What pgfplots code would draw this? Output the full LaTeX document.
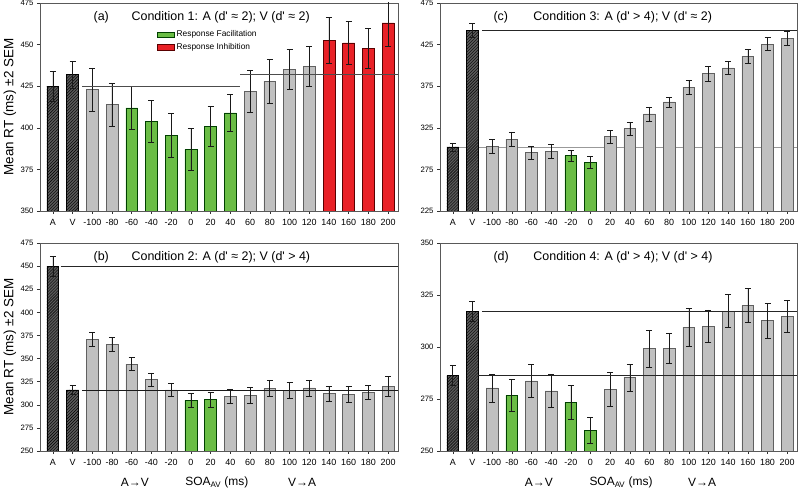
\documentclass[border=0pt]{standalone}
\usepackage{fontspec}
\setmainfont{Liberation Sans}[Ligatures=TeXOff]
\usepackage{pgfplots}
\pgfplotsset{compat=1.18}
\usetikzlibrary{patterns}

\definecolor{barGray}{RGB}{192,192,192}
\definecolor{barGreen}{RGB}{106,189,69}
\definecolor{barRed}{RGB}{233,33,39}
\definecolor{hatchGray}{RGB}{90,90,90}

\tikzset{
  ttl/.style={anchor=west, font=\fontsize{12.5}{14}\selectfont},
  soa/.style={anchor=center, font=\fontsize{12}{13}\selectfont},
}

\pgfplotsset{
  rtpanel/.style={
    scale only axis, width=358bp, height=208bp,
    clip mode=individual,
    ybar, bar width=0.6, bar shift=0pt,
    xmin=-0.65, xmax=17.5,
    xtick={0,...,17},
    xticklabels={A,V,-100,-80,-60,-40,-20,0,20,40,60,80,100,120,140,160,180,200},
    tick align=outside, xtick pos=bottom, ytick pos=left,
    major tick length=3bp,
    axis line style={gray!70!black, line width=0.5pt},
    tick style={gray!40!black, line width=0.5pt},
    x tick label style={font=\fontsize{9}{10}\selectfont, yshift=-2bp},
    y tick label style={font=\fontsize{7.8}{9}\selectfont},
    /pgf/number format/assume math mode=true,
    ylabel style={font=\fontsize{13.5}{15}\selectfont, at={(rel axis cs:-0.084,0.5)}, anchor=center},
  },
  hatched/.style={fill=hatchGray, draw=black, line width=0.6pt,
    postaction={pattern=north east lines, pattern color=black}},
  plain/.style={fill=barGray, draw=gray!75!black, line width=0.6pt},
  facil/.style={fill=barGreen, draw=green!25!black, line width=0.6pt},
  inhib/.style={fill=barRed, draw=red!35!black, line width=0.6pt},
  errs/.style={forget plot,
    error bars/y dir=both, error bars/y explicit,
    error bars/error bar style={gray!20!black, line width=0.6pt},
    error bars/error mark options={rotate=90, mark size=3bp, gray!20!black, line width=0.6pt}},
  refline/.style={sharp plot, no marks, line width=0.6pt, forget plot},
}

\begin{document}
\begin{tikzpicture}
\path[use as bounding box] (0,0) rectangle (799bp,492bp);

% (a) Condition 1
\begin{axis}[rtpanel, at={(40bp,281bp)}, anchor=south west,
  ymin=350, ymax=475, ytick={350,375,...,475},
  ylabel={Mean RT (ms) ±2 SEM},
  legend style={at={(rel axis cs:0.327,0.877)}, anchor=north west, draw=none, fill=none,
    font=\fontsize{8.4}{9}\selectfont, row sep=1bp, inner sep=0pt},
  legend cell align=left]
\addplot[hatched, errs] table[x=x, y=y, y error=e] {
x y e
0 425 9
1 432 8
};
\addplot[plain, errs] table[x=x, y=y, y error=e] {
x y e
2 423 13
3 414 13
10 422 12.5
11 428 13
12 435 12
13 437 12
};
\addplot[facil, errs] table[x=x, y=y, y error=e] {
x y e
4 412 13
5 404 12.5
6 395.5 13
7 387 12.5
8 401 12
9 409 11
};
\addplot[inhib, errs] table[x=x, y=y, y error=e] {
x y e
14 452.5 14
15 451 13
16 447.5 12
17 463 14
};
\addplot[refline, gray!60!black] coordinates {(1.5,425) (9.5,425)};
\addplot[refline, gray!60!black] coordinates {(9.5,432) (17.5,432)};
\addlegendimage{area legend, fill=barGreen, draw=green!25!black}
\addlegendentry{Response Facilitation}
\addlegendimage{area legend, fill=barRed, draw=red!35!black}
\addlegendentry{Response Inhibition}
\node[ttl] at (rel axis cs:0.14,0.93) {(a)};
\node[ttl] at (rel axis cs:0.246,0.93) {Condition 1: A (d' ≈ 2); V (d' ≈ 2)};
\end{axis}

% (c) Condition 3
\begin{axis}[rtpanel, width=357bp, at={(440bp,281bp)}, anchor=south west,
  ymin=225, ymax=475, ytick={225,275,...,475}]
\addplot[refline, gray!80] coordinates {(0.3,302) (17.5,302)};
\addplot[hatched, errs] table[x=x, y=y, y error=e] {
x y e
0 302 4.8
1 442 8
};
\addplot[plain, errs] table[x=x, y=y, y error=e] {
x y e
2 302.6 8.6
3 311.4 8.6
4 295 7.4
5 296.6 8.2
8 314.2 8
9 323.8 8
10 341.8 8.4
11 356.2 6
12 373.8 8
13 390.2 8.8
14 397 7.4
15 411 8
16 425.4 7.8
17 432.6 8.6
};
\addplot[facil, errs] table[x=x, y=y, y error=e] {
x y e
6 291.4 7
7 283 7.2
};
\addplot[refline, gray!30!black] coordinates {(1.5,442) (17.5,442)};
\node[ttl] at (rel axis cs:0.14,0.93) {(c)};
\node[ttl] at (rel axis cs:0.252,0.93) {Condition 3: A (d' > 4); V (d' ≈ 2)};
\end{axis}

% (b) Condition 2
\begin{axis}[rtpanel, at={(40bp,41bp)}, anchor=south west,
  ymin=250, ymax=475, ytick={250,275,...,475},
  ylabel={Mean RT (ms) ±2 SEM}]
\addplot[hatched, errs] table[x=x, y=y, y error=e] {
x y e
0 450 10.8
1 316 5
};
\addplot[plain, errs] table[x=x, y=y, y error=e] {
x y e
2 370.5 7.6
3 365.5 8
4 344 7.2
5 327.5 7
6 316 7.2
9 309.2 7.2
10 310.2 8.6
11 317.4 8.6
12 315.3 8.6
13 318.2 8.6
14 312 8.3
15 311.3 9
16 313.5 7.7
17 320 10.3
};
\addplot[facil, errs] table[x=x, y=y, y error=e] {
x y e
7 304.8 8
8 305.5 8
};
\addplot[refline, gray!30!black] coordinates {(0.4,450) (17.5,450)};
\addplot[refline, gray!20!black] coordinates {(1.5,316) (17.5,316)};
\node[ttl] at (rel axis cs:0.14,0.93) {(b)};
\node[ttl] at (rel axis cs:0.246,0.93) {Condition 2: A (d' ≈ 2); V (d' > 4)};
\node[soa] at (rel axis cs:0.265,-0.152) {A→V};
\node[soa] at (rel axis cs:0.494,-0.152) {SOA\textsubscript{AV} (ms)};
\node[soa] at (rel axis cs:0.732,-0.152) {V→A};
\end{axis}

% (d) Condition 4
\begin{axis}[rtpanel, width=357bp, at={(440bp,41bp)}, anchor=south west,
  ymin=250, ymax=350, ytick={250,275,...,350}]
\addplot[hatched, errs] table[x=x, y=y, y error=e] {
x y e
0 286.4 4.8
1 317.1 4.7
};
\addplot[plain, errs] table[x=x, y=y, y error=e] {
x y e
2 280.3 6.7
4 283.7 7.8
5 278.9 7.8
8 279.7 8.2
9 285.4 6.5
10 299.2 8.9
11 299.4 7.4
12 309.6 9.2
13 310 7.8
14 317.3 7.9
15 320 8
16 312.6 8.4
17 314.8 7.7
};
\addplot[facil, errs] table[x=x, y=y, y error=e] {
x y e
3 276.8 7.5
6 273.4 8.2
7 260 6.2
};
\addplot[refline, gray!30!black] coordinates {(1.3,286.4) (17.5,286.4)};
\addplot[refline, gray!30!black] coordinates {(1.5,317.1) (17.5,317.1)};
\node[ttl] at (rel axis cs:0.14,0.93) {(d)};
\node[ttl] at (rel axis cs:0.252,0.93) {Condition 4: A (d' > 4); V (d' > 4)};
\node[soa] at (rel axis cs:0.277,-0.152) {A→V};
\node[soa] at (rel axis cs:0.507,-0.152) {SOA\textsubscript{AV} (ms)};
\node[soa] at (rel axis cs:0.734,-0.152) {V→A};
\end{axis}
\end{tikzpicture}
\end{document}
